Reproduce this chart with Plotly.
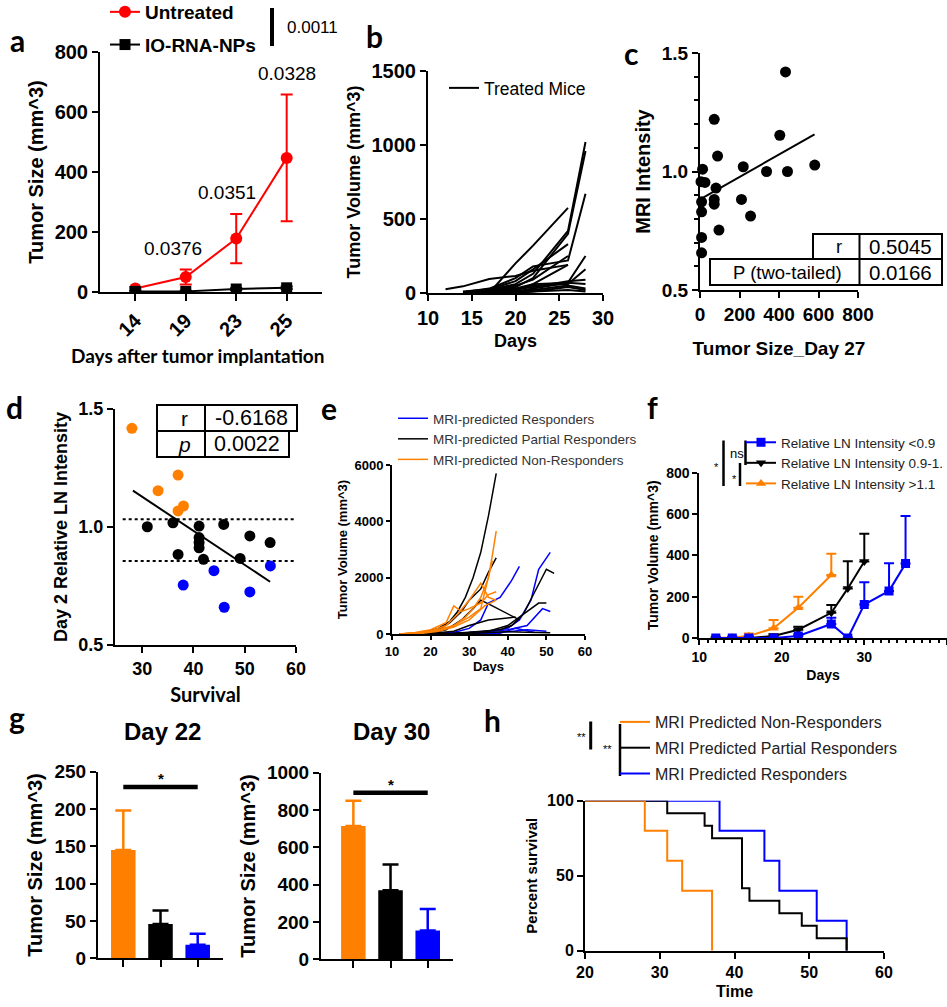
import plotly.graph_objects as go

W, H = 947, 1007


def px(x):
    return x / W


def py(y):
    return 1 - y / H


ARIAL = "Arial, Liberation Sans, sans-serif"
CAL = "Lato, Open Sans, sans-serif"
RED = "#FF0000"
ORANGE = "#FF8000"
BLUE = "#0000FF"
BLACK = "#000000"

# ---------------- data ----------------
# panel a
a_days = ["14", "19", "23", "25"]
a_untreated = [12, 50, 178, 447]
a_untreated_err = [5, 25, 82, 211]
a_np = [2, 2, 10, 14]
a_np_err = [1, 2, 3, 4]
a_pvals = ["0.0376", "0.0351", "0.0328"]
a_overall_p = "0.0011"

# panel b (days x tumor volume for each treated mouse)
b_days = [12, 14, 17, 20, 22, 26, 28]
b_mice = [
    [25, 45, 95, 115, 150, 190, None],
    [None, None, 0, 200, 320, 575, None],
    [None, 5, 20, 60, 130, 420, 1020],
    [None, 5, 10, 40, 100, 400, 960],
    [None, 10, 25, 80, 160, 330, None],
    [None, 0, 15, 50, 90, 250, None],
    [None, 5, 30, 100, 180, 220, 670],
    [None, 0, 10, 30, 60, 70, 250],
    [None, 0, 5, 20, 50, 60, 160],
    [None, 5, 10, 25, 40, 80, 90],
    [None, 0, 5, 10, 30, 70, 60],
    [None, 0, 0, 5, 20, 50, 30],
    [None, 0, 0, 0, 10, 20, 10],
    [None, 0, 5, 15, 60, 190, None],
    [None, None, 0, 5, 10, 40, 20],
]

# panel c
c_size = [433, 72, 404, 89, 13, 219, 337, 443, 581, 5, 25, 81, 72, 8, 72, 8, 210, 256, 96, 8, 8]
c_mri = [1.42, 1.22, 1.153, 1.065, 1.01, 1.02, 1.0, 1.0, 1.027, 0.957, 0.954, 0.93, 0.882,
         0.872, 0.862, 0.83, 0.882, 0.812, 0.753, 0.722, 0.657]
c_fit_x = [0, 580]
c_fit_y = [0.882, 1.157]
c_table = [["r", "0.5045"], ["P (two-tailed)", "0.0166"]]

# panel d
d_or_x = [28.0, 33.1, 37.0, 38.05, 37.0]
d_or_y = [1.418, 1.154, 1.22, 1.089, 1.068]
d_bk_x = [31.0, 36.0, 41.1, 45.9, 51.0, 54.95, 37.0, 41.1, 41.1, 41.1, 41.95, 49.1]
d_bk_y = [1.001, 1.018, 1.004, 1.011, 0.962, 0.934, 0.884, 0.955, 0.934, 0.912, 0.863, 0.867]
d_bl_x = [38.0, 44.0, 46.0, 51.0, 55.0]
d_bl_y = [0.754, 0.815, 0.66, 0.725, 0.835]
d_fit_x = [28.2, 54.95]
d_fit_y = [1.154, 0.768]
d_cut_x = [26.2, 59.8]
d_cuts = [1.033, 0.856]
d_table = [["r", "-0.6168"], ["<i>p</i>", "0.0022"]]

# panel e (each line: days, volumes)
e_black = [
    ([12, 16, 19, 22, 25, 27, 29, 31, 33, 35, 37], [0, 20, 80, 200, 450, 800, 1300, 2000, 2900, 4200, 5700]),
    ([12, 16, 19, 22, 25, 28, 30, 33, 35, 37], [0, 10, 50, 150, 400, 800, 1200, 1600, 2200, 2700]),
    ([12, 16, 20, 24, 28, 31, 33, 36, 40, 43], [0, 10, 40, 150, 500, 900, 1200, 1000, 700, 500]),
    ([12, 20, 26, 30, 35, 38, 41, 44, 47, 50, 52], [0, 10, 30, 60, 100, 150, 300, 700, 1500, 2300, 2150]),
    ([12, 20, 26, 30, 35, 40, 44, 48, 50], [0, 10, 20, 50, 100, 300, 700, 1100, 1100]),
    ([12, 20, 30, 35, 40, 45, 51], [0, 5, 20, 50, 80, 60, 40]),
    ([12, 20, 26, 30, 35, 42], [0, 20, 100, 300, 500, 600]),
]
e_orange = [
    ([12, 16, 20, 23, 26, 29, 31, 33, 35, 36, 37], [0, 30, 80, 150, 300, 600, 900, 1300, 2000, 2800, 3650]),
    ([12, 16, 20, 24, 27, 30, 32, 33, 35, 37], [0, 20, 100, 300, 700, 1200, 1600, 1800, 1300, 1200]),
    ([12, 16, 20, 24, 26, 28, 30, 33, 35, 37], [0, 50, 150, 400, 1000, 800, 900, 1100, 1400, 1500]),
    ([12, 18, 22, 26, 30, 33, 36], [0, 50, 150, 300, 600, 900, 2600]),
    ([12, 18, 22, 26, 30, 34, 37], [0, 30, 100, 250, 500, 1000, 1200]),
]
e_blue = [
    ([12, 20, 26, 30, 33, 35, 38, 41, 43], [0, 10, 50, 200, 500, 1100, 1300, 1900, 2400]),
    ([12, 20, 26, 30, 35, 40, 43, 46, 48, 51], [0, 10, 20, 50, 100, 200, 500, 1200, 2300, 2900]),
    ([12, 20, 26, 30, 35, 40, 45, 49, 51], [0, 5, 10, 30, 80, 150, 300, 900, 800]),
    ([12, 20, 26, 30, 35, 40, 45, 50], [0, 5, 10, 20, 40, 80, 150, 100]),
    ([12, 20, 30, 38, 42, 47], [0, 5, 10, 30, 200, 50]),
]

# panel f
f_blue_days = [12, 14, 16, 19, 22, 26, 28, 30, 33, 35]
f_blue = [0, 0, 0, 0, 10, 68, 0, 162, 228, 360]
f_blue_err = [2, 2, 2, 3, 8, 30, 2, 108, 134, 230]
f_black_days = [12, 14, 16, 19, 22, 26, 28, 30]
f_black = [0, 0, 0, 10, 40, 122, 240, 370]
f_black_err = [2, 2, 3, 8, 15, 38, 132, 135]
f_orange_days = [12, 14, 16, 19, 22, 26]
f_orange = [0, 2, 10, 47, 146, 305]
f_orange_err = [2, 4, 12, 40, 54, 103]

# panel g
g_groups = ["Non-Responders", "Partial Responders", "Responders"]
g22 = [145, 46, 18]
g22_err = [53, 18, 15]
g30 = [715, 370, 155]
g30_err = [135, 138, 115]

# panel h (Kaplan-Meier)
h_non_t = [20, 28, 31, 33, 37]
h_non_s = [100, 80, 60, 40, 0]
h_par_t = [20, 31, 36, 37, 41, 42, 46, 49, 51, 55]
h_par_s = [100, 91.7, 83.3, 75, 41.7, 33.3, 25, 16.7, 8.3, 0]
h_res_t = [20, 38, 44, 46, 51, 55]
h_res_s = [100, 80, 60, 40, 20, 0]

# ---------------- figure ----------------
fig = go.Figure()


def bold(size, fam=ARIAL):
    return dict(family=fam, size=size, color="black", weight="bold")


def norm(size, fam=ARIAL, color="black"):
    return dict(family=fam, size=size, color=color)


# a
fig.add_trace(go.Scatter(
    x=a_days, y=a_untreated, mode="lines+markers", name="Untreated",
    line=dict(color=RED, width=2), marker=dict(color=RED, size=12, symbol="circle"),
    error_y=dict(type="data", array=a_untreated_err, color=RED, thickness=2, width=6),
    xaxis="x", yaxis="y", legend="legend", legendgroup="a1", legendrank=1))
fig.add_trace(go.Scatter(
    x=a_days, y=a_np, mode="lines+markers", name="IO-RNA-NPs",
    line=dict(color=BLACK, width=2), marker=dict(color=BLACK, size=11, symbol="square"),
    error_y=dict(type="data", array=a_np_err, color=BLACK, thickness=2, width=6),
    xaxis="x", yaxis="y", legend="legend", legendgroup="a2", legendrank=2))

# b
for i, vals in enumerate(b_mice):
    fig.add_trace(go.Scatter(
        x=b_days, y=vals, mode="lines", name="Treated Mice",
        line=dict(color=BLACK, width=2), showlegend=(i == 0),
        xaxis="x2", yaxis="y2", legend="legend2"))

# c
fig.add_trace(go.Scatter(x=c_size, y=c_mri, mode="markers", marker=dict(color=BLACK, size=11),
                         showlegend=False, xaxis="x3", yaxis="y3", cliponaxis=False))
fig.add_trace(go.Scatter(x=c_fit_x, y=c_fit_y, mode="lines", line=dict(color=BLACK, width=2),
                         showlegend=False, xaxis="x3", yaxis="y3"))

# d
for cy in d_cuts:
    fig.add_trace(go.Scatter(x=d_cut_x, y=[cy, cy], mode="lines",
                             line=dict(color=BLACK, width=2, dash="dot"),
                             showlegend=False, xaxis="x4", yaxis="y4"))
fig.add_trace(go.Scatter(x=d_fit_x, y=d_fit_y, mode="lines", line=dict(color=BLACK, width=2),
                         showlegend=False, xaxis="x4", yaxis="y4"))
for xs, ys, col in [(d_or_x, d_or_y, ORANGE), (d_bk_x, d_bk_y, BLACK), (d_bl_x, d_bl_y, BLUE)]:
    fig.add_trace(go.Scatter(x=xs, y=ys, mode="markers", marker=dict(color=col, size=11),
                             showlegend=False, xaxis="x4", yaxis="y4"))

# e
for grp, col, nm, rank in [(e_blue, BLUE, "MRI-predicted Responders", 1),
                           (e_black, BLACK, "MRI-predicted Partial Responders", 2),
                           (e_orange, ORANGE, "MRI-predicted Non-Responders", 3)]:
    for j, (dd, vv) in enumerate(grp):
        fig.add_trace(go.Scatter(x=dd, y=vv, mode="lines", name=nm,
                                 line=dict(color=col, width=1.5), showlegend=(j == 0),
                                 legendrank=rank, xaxis="x5", yaxis="y5", legend="legend3"))

# f
for dd, vv, ee, col, sym, nm, rank in [
        (f_orange_days, f_orange, f_orange_err, ORANGE, "triangle-up", "Relative LN Intensity >1.1", 3),
        (f_black_days, f_black, f_black_err, BLACK, "triangle-down", "Relative LN Intensity 0.9-1.", 2),
        (f_blue_days, f_blue, f_blue_err, BLUE, "square", "Relative LN Intensity <0.9", 1)]:
    fig.add_trace(go.Scatter(
        x=dd, y=vv, mode="lines+markers", name=nm, legendrank=rank,
        line=dict(color=col, width=2), marker=dict(color=col, size=9, symbol=sym),
        error_y=dict(type="data", array=ee, arrayminus=[0] * len(ee), color=col, thickness=2, width=5),
        xaxis="x6", yaxis="y6", legend="legend4", legendgroup="f%d" % rank))

# g
g_cols = [ORANGE, BLACK, BLUE]
for ax_id, vals, errs in [("7", g22, g22_err), ("8", g30, g30_err)]:
    for k in range(3):
        fig.add_trace(go.Bar(
            x=[g_groups[k]], y=[vals[k]], width=0.66, marker=dict(color=g_cols[k], line=dict(width=0)),
            error_y=dict(type="data", array=[errs[k]], arrayminus=[0], color=g_cols[k], thickness=2.5, width=8),
            showlegend=False, xaxis="x" + ax_id, yaxis="y" + ax_id))

# h
for tt, ss, col, nm, rank in [(h_res_t, h_res_s, BLUE, "MRI Predicted Responders", 3),
                              (h_par_t, h_par_s, BLACK, "MRI Predicted Partial Responders", 2),
                              (h_non_t, h_non_s, ORANGE, "MRI Predicted Non-Responders", 1)]:
    fig.add_trace(go.Scatter(x=tt, y=ss, mode="lines", line=dict(color=col, width=2, shape="hv"),
                             name=nm, legendrank=rank, xaxis="x9", yaxis="y9", legend="legend5",
                             legendgroup="h%d" % rank))


# ---------------- axes ----------------
def axis(xd, rng, tickfont, title=None, tfont=None, standoff=8, anchor=None, **kw):
    d = dict(domain=xd, range=rng, showline=True, linecolor="black", linewidth=2,
             ticks="outside", ticklen=6, tickwidth=2, tickcolor="black",
             showgrid=False, zeroline=False, tickfont=tickfont, anchor=anchor)
    if title:
        d["title"] = dict(text=title, font=tfont, standoff=standoff)
    d.update(kw)
    return d


lay = {}
# a
lay["xaxis"] = axis([px(100), px(322)], [-0.7, 3.7], bold(20), anchor="y", type="category",
                    tickangle=-45, ticklen=7)
lay["yaxis"] = axis([py(292), py(52)], [0, 800], bold(20), "Tumor Size (mm^3)", bold(20),
                    anchor="x", tickvals=[0, 200, 400, 600, 800], standoff=6)
# b
lay["xaxis2"] = axis([px(428), px(603)], [10, 30], bold(20), "Days", bold(18), anchor="y2",
                     tickvals=[10, 15, 20, 25, 30], standoff=6)
lay["yaxis2"] = axis([py(293), py(71)], [0, 1500], bold(20), "Tumor Volume (mm^3)", bold(18),
                     anchor="x2", tickvals=[0, 500, 1000, 1500], standoff=6)
# c
lay["xaxis3"] = axis([px(700), px(858)], [0, 800], bold(19), "Tumor Size_Day 27", bold(19),
                     anchor="y3", tickvals=[0, 200, 400, 600, 800], standoff=18)
lay["yaxis3"] = axis([py(290), py(53)], [0.5, 1.5], bold(19), "MRI Intensity", bold(20),
                     anchor="x3", tickvals=[0.5, 1.0, 1.5], tickformat=".1f", standoff=6,
                     minor=dict(dtick=0.1, ticks="outside", ticklen=4, tickwidth=2, tickcolor="black"))
# d
lay["xaxis4"] = axis([px(115), px(296)], [24.7, 60], bold(18), "Survival", bold(20, CAL),
                     anchor="y4", tickvals=[30, 40, 50, 60], standoff=10)
lay["yaxis4"] = axis([py(645), py(409)], [0.5, 1.5], bold(18), "Day 2 Relative LN Intensity", bold(18),
                     anchor="x4", tickvals=[0.5, 1.0, 1.5], tickformat=".1f", standoff=6)
# e
lay["xaxis5"] = axis([px(392), px(585)], [10, 60], bold(13), "Days", bold(13), anchor="y5",
                     tickvals=[10, 20, 30, 40, 50, 60], standoff=4, ticklen=4)
lay["yaxis5"] = axis([py(634), py(465)], [0, 6000], bold(13), "Tumor Volume (mm^3)", bold(13),
                     anchor="x5", tickvals=[0, 2000, 4000, 6000], standoff=4, ticklen=4)
# f
lay["xaxis6"] = axis([px(699.3), px(946.8)], [10, 40], bold(14), "Days", bold(14), anchor="y6",
                     tickvals=[10, 20, 30, 40], standoff=6, ticklen=5,
                     minor=dict(dtick=1, ticks="outside", ticklen=3, tickwidth=1.5, tickcolor="black"))
lay["yaxis6"] = axis([py(638), py(472.7)], [0, 800], bold(14), "Tumor Volume (mm^3)", bold(14),
                     anchor="x6", tickvals=[0, 200, 400, 600, 800], standoff=4, ticklen=5)
# g
lay["xaxis7"] = axis([px(98), px(223)], [-0.68, 2.68], bold(10), anchor="y7", type="category",
                     showticklabels=False, ticklen=7)
lay["yaxis7"] = axis([py(958.3), py(771.7)], [0, 250], bold(19), "Tumor Size (mm^3)", bold(20),
                     anchor="x7", tickvals=[0, 50, 100, 150, 200, 250], standoff=6)
lay["xaxis8"] = axis([px(321), px(453)], [-0.87, 2.68], bold(10), anchor="y8", type="category",
                     showticklabels=False, ticklen=7)
lay["yaxis8"] = axis([py(959.3), py(772.7)], [0, 1000], bold(19), "Tumor Size (mm^3)", bold(20),
                     anchor="x8", tickvals=[0, 200, 400, 600, 800, 1000], standoff=6)
# h
lay["xaxis9"] = axis([px(585), px(884)], [20, 60], bold(16), "Time", bold(16), anchor="y9",
                     tickvals=[20, 30, 40, 50, 60], standoff=6)
lay["yaxis9"] = axis([py(950.7), py(800.7)], [0, 100], bold(16), "Percent survival", bold(15),
                     anchor="x9", tickvals=[0, 50, 100], standoff=6)

# ---------------- legends ----------------
leg_common = dict(bgcolor="rgba(0,0,0,0)", borderwidth=0, xanchor="left", yanchor="top",
                  itemclick=False)
lay["legend"] = dict(x=px(105), y=py(-7), font=bold(19), tracegroupgap=5, **leg_common)
lay["legend2"] = dict(x=px(444), y=py(70), font=norm(17.5), **leg_common)
lay["legend3"] = dict(x=px(393), y=py(403), font=norm(13.5, color="#333333"), tracegroupgap=0, **leg_common)
lay["legend4"] = dict(x=px(741), y=py(427), font=norm(13.5, color="#222222"), tracegroupgap=0, **leg_common)
lay["legend5"] = dict(x=px(615), y=py(705), font=norm(16, color="#222222"), tracegroupgap=2, **leg_common)

# ---------------- annotations & shapes ----------------
ann = []
shapes = []


def text(x, y, s, font, xa="center", ya="middle", **kw):
    ann.append(dict(x=px(x), y=py(y), xref="paper", yref="paper", text=s, showarrow=False,
                    font=font, xanchor=xa, yanchor=ya, **kw))


# panel letters
for lab, x, y in [("a", 17, 40), ("b", 374, 36), ("c", 631, 53), ("d", 15, 407), ("e", 329, 408),
                  ("f", 652, 407), ("g", 17, 717), ("h", 492, 720)]:
    text(x, y, lab, bold(30, CAL))

# a p-values (placed above the error bars)
for i, pv in enumerate(a_pvals):
    ann.append(dict(x=i + 1, y=a_untreated[i + 1] + a_untreated_err[i + 1], xref="x", yref="y",
                    text=pv, showarrow=False, font=norm(19), yanchor="bottom", yshift=9,
                    xshift=[-13, -9, 0][i]))
shapes.append(dict(type="line", xref="paper", yref="paper", x0=px(272), x1=px(272), y0=py(8), y1=py(46),
                   line=dict(color="black", width=4)))
text(285, 28, a_overall_p, norm(17), xa="left")

# x title a
text(198, 355, "Days after tumor implantation", bold(19, CAL))


# tables
def table(rows, x_left, x_mid, x_right, y_top, y_mid, y_bot, fs_label, fs_val):
    shapes.append(dict(type="rect", xref="paper", yref="paper", x0=px(x_left[0]), x1=px(x_right[0]),
                       y0=py(y_mid), y1=py(y_top), line=dict(color="black", width=2)))
    shapes.append(dict(type="rect", xref="paper", yref="paper", x0=px(x_left[1]), x1=px(x_right[1]),
                       y0=py(y_bot), y1=py(y_mid), line=dict(color="black", width=2)))
    shapes.append(dict(type="line", xref="paper", yref="paper", x0=px(x_mid), x1=px(x_mid),
                       y0=py(y_bot), y1=py(y_top), line=dict(color="black", width=2)))
    for r, (yt, yb) in enumerate([(y_top, y_mid), (y_mid, y_bot)]):
        text((x_left[r] + x_mid) / 2 + 3, (yt + yb) / 2, rows[r][0], norm(fs_label))
        text((x_mid + x_right[r]) / 2, (yt + yb) / 2, rows[r][1], norm(fs_val))


table(c_table, (813, 710), 859.5, (942, 942), 234, 259, 285, 18.5, 20.5)
table(d_table, (157, 157), 205, (297, 289), 405, 431, 457, 21, 21.5)

# f significance
shapes.append(dict(type="line", xref="paper", yref="paper", x0=px(723.5), x1=px(723.5), y0=py(440.5),
                   y1=py(486), line=dict(color="black", width=2.5)))
shapes.append(dict(type="line", xref="paper", yref="paper", x0=px(745.5), x1=px(745.5), y0=py(440.5),
                   y1=py(465), line=dict(color="black", width=2.5)))
shapes.append(dict(type="line", xref="paper", yref="paper", x0=px(740), x1=px(740), y0=py(463),
                   y1=py(486), line=dict(color="black", width=2.5)))
text(716, 467, "*", norm(11))
text(736.5, 453, "ns", norm(13))
text(734, 479, "*", norm(11))

# g titles
text(162, 731, "Day 22", bold(24))
text(391, 731, "Day 30", bold(24))
# g significance bars (data coordinates)
g_sig = [("7", 229.5), ("8", 892)]
for ax_id, yv in g_sig:
    shapes.append(dict(type="line", xref="x" + ax_id, yref="y" + ax_id, x0=g_groups[0], x1=g_groups[2],
                       y0=yv, y1=yv, line=dict(color="black", width=4.5)))
    ann.append(dict(x=g_groups[1], y=yv, xref="x" + ax_id, yref="y" + ax_id, text="*", showarrow=False,
                    font=bold(15), yanchor="bottom", yshift=-2))

# h significance
shapes.append(dict(type="line", xref="paper", yref="paper", x0=px(590.7), x1=px(590.7), y0=py(721.5),
                   y1=py(749.5), line=dict(color="black", width=3)))
shapes.append(dict(type="line", xref="paper", yref="paper", x0=px(620), x1=px(620), y0=py(724),
                   y1=py(776), line=dict(color="black", width=2.5)))
text(581.5, 737, "**", norm(11))
text(607.5, 749, "**", norm(11))

fig.update_layout(
    width=W, height=H, margin=dict(l=0, r=0, t=0, b=0, autoexpand=False),
    paper_bgcolor="white", plot_bgcolor="white", showlegend=True,
    barmode="overlay", annotations=ann, shapes=shapes, **lay)

fig.write_html("out.html", config={"displayModeBar": False},
               post_script="document.body.style.margin='0px';document.body.style.padding='0px';")
